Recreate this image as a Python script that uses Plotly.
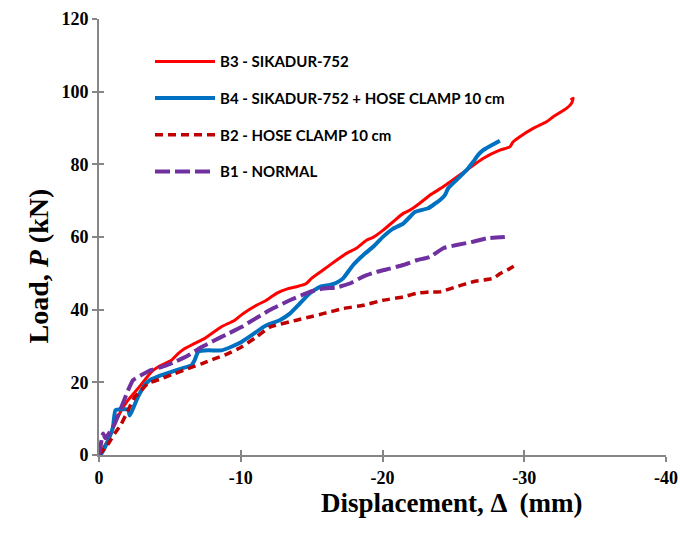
import plotly.graph_objects as go

# ---- data ----
b3_disp = [0, -0.3, -0.64, -1.11, -1.58, -2.05, -2.75, -3.22, -3.70, -4.17, -5.11, -5.58, -6.05, -6.75, -7.46, -7.93,
           -8.64, -9.58, -10.16, -11.11, -11.81, -12.52, -13.34, -13.93, -14.63, -14.99, -15.81, -16.75, -17.46,
           -18.16, -18.87, -19.34, -20.05, -20.75, -21.46, -21.93, -22.63, -23.34, -24.28, -25.93, -27.09, -28.27,
           -28.98, -29.22, -29.69, -30.63, -31.57, -32.04, -32.98, -33.34, -33.45, -33.27]
b3_load = [0, 2.0, 4.05, 8.6, 12.3, 15.1, 18.3, 20.6, 22.9, 24.2, 26.1, 27.9, 29.3, 30.7, 32.1, 33.4,
           35.3, 37.1, 38.9, 41.2, 42.6, 44.5, 45.8, 46.3, 47.2, 48.6, 50.9, 53.6, 55.5,
           56.9, 59.1, 59.9, 61.9, 64.2, 66.5, 67.4, 69.3, 71.5, 73.8, 78.4, 81.6, 83.9,
           84.8, 86.2, 87.6, 89.9, 91.7, 93.1, 95.4, 96.8, 98.2, 97.7]

b4_disp = [0, -0.17, -0.64, -0.99, -1.16, -2.05, -2.17, -2.75, -3.22, -3.58, -4.40, -5.11, -5.81, -6.52, -6.75,
           -6.99, -7.70, -8.64, -9.34, -10.05, -10.75, -11.58, -12.05, -12.75, -13.46, -14.17, -14.87, -15.58,
           -16.28, -16.75, -17.22, -17.93, -18.63, -19.34, -20.05, -20.75, -21.46, -22.05, -22.28, -23.22,
           -23.57, -24.04, -24.40, -24.63, -25.22, -25.93, -26.40, -26.75, -27.10, -27.58, -28.28]
b4_load = [0, 0.4, 4.0, 7.7, 12.3, 12.5, 10.9, 16.0, 19.2, 20.6, 22.0, 22.9, 23.8, 24.7, 26.1,
           28.4, 28.8, 28.8, 29.8, 31.1, 32.9, 35.2, 36.1, 37.1, 38.9, 41.7, 44.5, 46.3,
           46.8, 47.4, 48.6, 52.3, 55.0, 57.3, 60.1, 62.3, 63.7, 66.0, 66.9, 67.9,
           68.8, 70.1, 71.5, 73.4, 75.7, 78.4, 80.7, 82.6, 83.9, 85.0, 86.5]

b2_disp = [0, -0.64, -1.11, -1.58, -2.05, -2.52, -2.99, -3.46, -4.40, -5.34, -6.28, -7.23, -8.17, -9.11, -10.05,
           -11.11, -12.05, -13.93, -14.87, -15.81, -17.22, -18.63, -20.05, -21.46, -22.40, -23.34, -24.04,
           -25.22, -26.40, -27.81, -28.28, -28.98, -29.57]
b2_load = [0, 3.0, 5.9, 8.6, 12.3, 16.0, 17.8, 19.7, 21.0, 22.4, 23.8, 25.1, 26.5, 27.9, 29.7,
           32.5, 35.2, 37.1, 38.0, 38.9, 40.3, 41.2, 42.6, 43.5, 44.5, 44.9, 44.9,
           46.3, 47.7, 48.6, 49.9, 51.3, 52.7]

b1_disp = [0, -0.29, -0.45, -1.11, -1.58, -2.05, -2.40, -2.99, -3.70, -4.40, -5.34, -6.28, -7.23, -8.17, -9.11,
           -10.05, -10.63, -12.05, -13.46, -14.87, -15.81, -16.75, -17.69, -18.63, -19.58, -20.52, -21.46,
           -22.40, -23.34, -24.28, -25.22, -26.40, -27.34, -28.63]
b1_load = [0, 5.9, 4.6, 8.6, 13.2, 17.8, 20.6, 22.0, 23.4, 24.2, 25.6, 27.4, 29.7, 31.6, 33.4,
           35.2, 36.6, 39.9, 42.6, 44.9, 45.8, 46.1, 47.2, 49.1, 50.4, 51.3, 52.3,
           53.6, 54.5, 56.9, 57.8, 58.7, 59.6, 60.0]

names = ["B3 - SIKADUR-752", "B4 - SIKADUR-752 + HOSE CLAMP 10 cm", "B2 - HOSE CLAMP 10 cm", "B1 - NORMAL"]
x_tickvals = [0, -10, -20, -30, -40]
x_ticktext = ["0", "-10", "-20", "-30", "-40"]
y_tickvals = [0, 20, 40, 60, 80, 100, 120]

# ---- figure ----
serif = "Liberation Serif, Times New Roman, serif"
legend_font = "Lato, Carlito, Calibri, sans-serif"
axis_grey = "#868686"

fig = go.Figure()
series = [
    (b3_disp, b3_load, "#FF0000", 3, "solid"),
    (b4_disp, b4_load, "#0070C0", 4, "solid"),
    (b2_disp, b2_load, "#C00000", 3.5, "8px,5px"),
    (b1_disp, b1_load, "#7030A0", 4, "15px,5px"),
]
legends = ["legend", "legend2", "legend3", "legend4"]
for (xs, ys, col, w, dash), nm, lg in zip(series, names, legends):
    fig.add_trace(go.Scatter(x=xs, y=ys, mode="lines", name=nm, legend=lg,
                             line=dict(color=col, width=w, dash=dash, shape="spline", smoothing=0.4)))

# empty helper trace so the overlay axes (inner half of the crossing ticks) are drawn
fig.add_trace(go.Scatter(x=[], y=[], xaxis="x2", yaxis="y2", showlegend=False, hoverinfo="skip"))

L, R, T, B = 99, 14, 19, 80
W, H = 680, 535
pw, ph = W - L - R, H - T - B

def px2paper_x(px):
    return (px - L) / pw

def px2paper_y(py):
    return (H - B - py) / ph

leg_common = dict(xanchor="left", yanchor="middle", bgcolor="rgba(0,0,0,0)",
                  font=dict(family=legend_font, size=15, color="black", weight="bold"),
                  itemwidth=60, borderwidth=0)
row_y = [61.7, 98.3, 135, 171.7]
layout_legends = {}
for lg, yy in zip(legends, row_y):
    layout_legends[lg] = dict(x=px2paper_x(150), y=px2paper_y(yy), **leg_common)

tick_font = dict(family=serif, size=18, color="black", weight="bold")
fig.update_layout(
    width=W, height=H,
    margin=dict(l=L, r=R, t=T, b=B, autoexpand=False),
    plot_bgcolor="white", paper_bgcolor="white",
    showlegend=True,
    **layout_legends,
    xaxis=dict(range=[0, -40], tickvals=x_tickvals, ticktext=x_ticktext, automargin=False,
               showgrid=False, zeroline=False, showline=True, linecolor=axis_grey, linewidth=2,
               ticks="outside", ticklen=5, tickcolor=axis_grey, tickwidth=1.5, tickfont=tick_font),
    yaxis=dict(range=[0, 120], tickvals=y_tickvals, automargin=False,
               showgrid=False, zeroline=False, showline=True, linecolor=axis_grey, linewidth=2,
               ticks="outside", ticklen=5, tickcolor=axis_grey, tickwidth=1.5, tickfont=tick_font),
    xaxis2=dict(overlaying="x", anchor="y2", side="bottom", range=[0, -40], tickvals=x_tickvals,
                showticklabels=False, showgrid=False, zeroline=False, showline=False, automargin=False,
                ticks="inside", ticklen=5, tickcolor=axis_grey, tickwidth=1.5),
    yaxis2=dict(overlaying="y", anchor="x2", side="left", range=[0, 120], tickvals=y_tickvals,
                showticklabels=False, showgrid=False, zeroline=False, showline=False, automargin=False,
                ticks="inside", ticklen=5, tickcolor=axis_grey, tickwidth=1.5),
)

# axis titles as annotations (positioned like the reference)
fig.add_annotation(text="Load, <i>P</i> (kN)", xref="paper", yref="paper",
                   x=px2paper_x(20), y=px2paper_y(266), textangle=-90, showarrow=False,
                   font=dict(family=serif, size=28, color="black", weight="bold"))
fig.add_annotation(text="Displacement, Δ  (mm)", xref="paper", yref="paper",
                   x=px2paper_x(451), y=px2paper_y(520), showarrow=False,
                   font=dict(family=serif, size=27, color="black", weight="bold"))

fig.write_html("out.html", config={"displayModeBar": False},
               post_script="document.body.style.margin='0';document.body.style.overflow='hidden';")
